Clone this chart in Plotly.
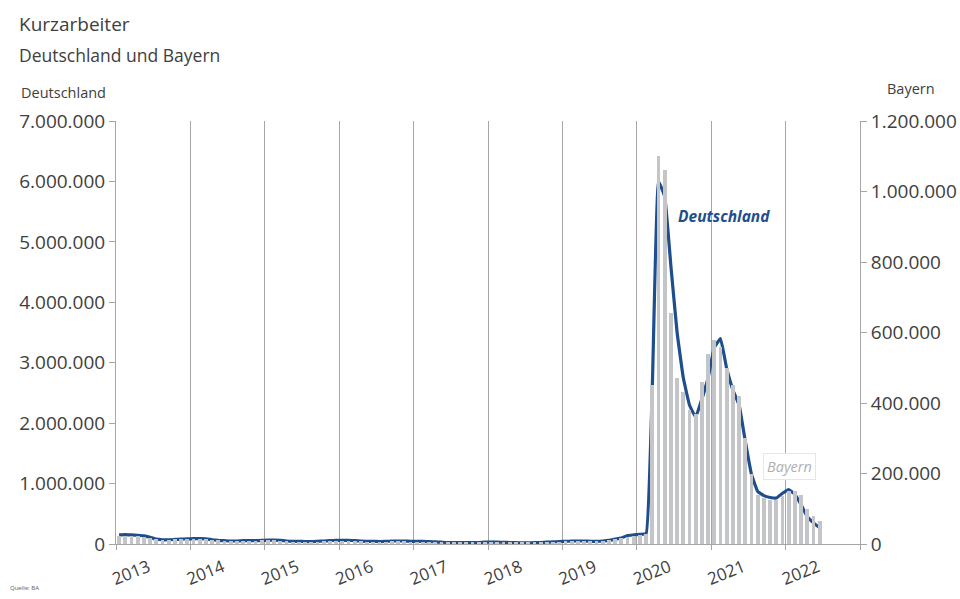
import plotly.graph_objects as go

years = [str(y) for y in range(2013, 2023)]
# monthly values Jan 2013 .. Jun 2022 (in thousand persons)
deutschland_k = [
    150, 155, 150, 145, 135, 110, 80, 70, 70, 75, 80, 85,      # 2013
    90, 90, 85, 70, 60, 55, 50, 50, 55, 55, 55, 60,            # 2014
    65, 65, 60, 50, 45, 45, 40, 40, 45, 50, 55, 60,            # 2015
    60, 60, 55, 50, 45, 45, 40, 45, 50, 50, 50, 45,            # 2016
    45, 45, 40, 35, 30, 25, 25, 25, 25, 25, 25, 30,            # 2017
    30, 30, 28, 25, 22, 20, 20, 22, 25, 30, 35, 40,            # 2018
    45, 50, 50, 50, 45, 45, 50, 60, 80, 100, 140, 150,         # 2019
    160, 170, 2600, 6000, 5750, 4600, 3500, 2750, 2300, 2100, 2400, 2750,  # 2020
    3250, 3400, 2900, 2550, 2300, 1700, 1150, 870, 800, 770, 760, 840,     # 2021
    900, 820, 650, 450, 350, 270,                              # 2022
]
bayern_k = [
    22, 24, 23, 22, 20, 17, 13, 12, 12, 13, 14, 15,
    15, 15, 14, 12, 10, 9, 8, 8, 9, 9, 9, 10,
    10, 10, 9, 8, 7, 7, 6, 6, 7, 8, 8, 9,
    9, 9, 8, 8, 7, 7, 6, 7, 8, 8, 8, 7,
    7, 7, 6, 6, 5, 4, 4, 4, 4, 4, 4, 5,
    5, 5, 5, 4, 4, 3, 3, 4, 4, 5, 6, 7,
    8, 9, 9, 9, 8, 8, 9, 11, 14, 18, 21, 23,
    25, 27, 450, 1100, 1060, 655, 470, 430, 380, 370, 460, 540,
    580, 560, 500, 450, 420, 300, 200, 140, 130, 125, 125, 135,
    150, 150, 140, 100, 80, 65,
]
deutschland = [v * 1000 for v in deutschland_k]
bayern = [v * 1000 for v in bayern_k]
months = [i + 0.5 for i in range(len(deutschland))]

FONT = "Open Sans"
TXT = "#404040"
GRID = "#a6a6a6"

fig = go.Figure()
fig.add_trace(go.Bar(x=months, y=bayern, yaxis="y2", width=0.62,
                     marker=dict(color="#c3c5c9", line=dict(width=0)),
                     name="Bayern", showlegend=False))
fig.add_trace(go.Scatter(x=months, y=deutschland, mode="lines",
                         line=dict(color="#1f4e8c", width=3.2, shape="spline", smoothing=0.3),
                         name="Deutschland", showlegend=False))

fig.update_layout(
    width=960, height=599,
    margin=dict(l=116, r=100, t=121, b=55, autoexpand=False),
    paper_bgcolor="white", plot_bgcolor="white",
    separators=",.",
    font=dict(family=FONT, color=TXT),
    bargap=0,
    xaxis=dict(
        range=[0, 120],
        tickvals=[i * 12 + 5.2 for i in range(len(years))],
        ticktext=years,
        tickangle=-22,
        automargin=False,
        ticks="", showgrid=False, zeroline=False,
        showline=True, linecolor=GRID, linewidth=1,
        ticklabelstandoff=6,
        tickfont=dict(size=17, color=TXT),
        minor=dict(tickvals=[i * 12 for i in range(11)], showgrid=True,
                   gridcolor=GRID, gridwidth=1, ticks="outside", ticklen=5,
                   tickcolor=GRID),
    ),
    yaxis=dict(
        range=[0, 7000000], dtick=1000000, tickformat=",d",
        automargin=False,
        showgrid=False, zeroline=False, showline=True, linecolor=GRID,
        ticks="outside", ticklen=6, tickcolor=GRID,
        tickfont=dict(size=19, color=TXT),
    ),
    yaxis2=dict(
        range=[0, 1200000], dtick=200000, tickformat=",d",
        overlaying="y", side="right", automargin=False,
        showgrid=False, zeroline=False, showline=True, linecolor=GRID,
        ticks="outside", ticklen=6, tickcolor=GRID,
        tickfont=dict(size=19, color=TXT),
    ),
)

def px(xp, yp):
    return (xp - 116) / 744.0, (544 - yp) / 423.0

annots = [
    ("Kurzarbeiter", 17, 24, 19, TXT, "left"),
    ("Deutschland und Bayern", 17, 55, 17.5, TXT, "left"),
    ("Deutschland", 19, 93, 14.5, TXT, "left"),
    ("Bayern", 885, 89, 14.5, TXT, "left"),
    ("Quelle: BA", 8, 588, 6, "#606060", "left"),
]
for text, x0, y0, size, col, anchor in annots:
    ax, ay = px(x0, y0)
    fig.add_annotation(text=text, x=ax, y=ay, xref="paper", yref="paper",
                       xanchor=anchor, yanchor="middle", showarrow=False,
                       font=dict(size=size, color=col, family=FONT))

fig.add_annotation(text="<b><i>Deutschland</i></b>", x=98.0, y=5430000,
                   xref="x", yref="y", showarrow=False,
                   font=dict(size=15.5, color="#1f4e8c", family=FONT))
fig.add_annotation(text="<i>Bayern</i>", x=108.6, y=1290000,
                   xref="x", yref="y", showarrow=False,
                   bordercolor="#e6e6e6", borderwidth=1, borderpad=3,
                   bgcolor="white",
                   font=dict(size=14.5, color="#b0b0b0", family=FONT))

fig.write_html("out.html")
